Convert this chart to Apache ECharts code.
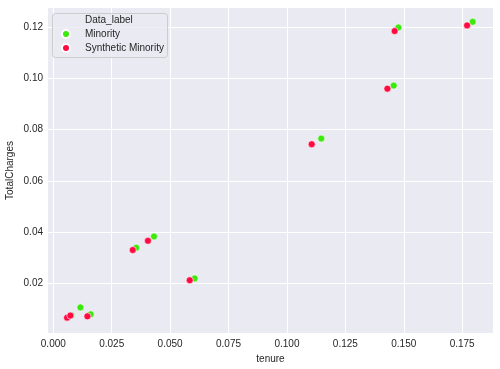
<!DOCTYPE html>
<html>
<head>
<meta charset="utf-8">
<script src="https://cdn.jsdelivr.net/npm/echarts@6/dist/echarts.min.js"></script>
<style>
  html, body { margin: 0; padding: 0; background: #fff; }
  #chart { width: 500px; height: 369px; }
</style>
</head>
<body>
<div id="chart"></div>
<script>
// values (tenure, TotalCharges)
var minorityTenure = [0.0077, 0.0116, 0.0160, 0.0355, 0.0431, 0.0605, 0.1147, 0.1457, 0.1477, 0.1795];
var minorityCharges = [0.0075, 0.0106, 0.0079, 0.0339, 0.0383, 0.0219, 0.0765, 0.0972, 0.1199, 0.1221];
var syntheticTenure = [0.0059, 0.0073, 0.0146, 0.0340, 0.0405, 0.0584, 0.1106, 0.1430, 0.1461, 0.1771];
var syntheticCharges = [0.0066, 0.0074, 0.0071, 0.0330, 0.0366, 0.0212, 0.0743, 0.0960, 0.1185, 0.1207];
var seriesNames = ['Minority', 'Synthetic Minority'];
var xTicks = [0, 0.025, 0.05, 0.075, 0.1, 0.125, 0.15, 0.175];
var yTicks = [0.02, 0.04, 0.06, 0.08, 0.1, 0.12];

function pairs(xs, ys) {
  return xs.map(function (x, i) { return [x, ys[i]]; });
}

var textColor = '#262626';
var chart = echarts.init(document.getElementById('chart'));

var option = {
  color: ['#3de80f', '#ff0a43'],
  animation: false,
  textStyle: { fontFamily: 'Liberation Sans, Arial, sans-serif' },
  grid: {
    left: 48, top: 8, right: 7, bottom: 36,
    outerBoundsMode: 'none',
    show: true,
    backgroundColor: '#eaeaf2',
    borderWidth: 0
  },
  graphic: [
    {
      type: 'rect', z: 3, left: 52, top: 13,
      shape: { width: 115, height: 44, r: 3 },
      style: { fill: 'rgba(234,234,242,0.8)', stroke: '#cccccc', lineWidth: 1 }
    },
    {
      type: 'text', z: 4, left: 85, top: 15,
      style: { text: 'Data_label', fill: textColor, font: '10px Liberation Sans, Arial, sans-serif' }
    }
  ],
  legend: {
    orient: 'vertical',
    left: 61, top: 27,
    padding: 0,
    itemWidth: 28, itemHeight: 8, itemGap: 0,
    icon: 'circle',
    textStyle: { color: textColor, fontSize: 10, lineHeight: 14 },
    data: seriesNames
  },
  xAxis: {
    type: 'value',
    min: -0.00227, max: 0.1882,
    name: 'tenure', nameLocation: 'middle', nameGap: 19,
    nameTextStyle: { color: textColor, fontSize: 10 },
    axisLine: { show: false },
    axisTick: { show: false, customValues: xTicks },
    axisLabel: {
      color: textColor, fontSize: 10, margin: 6,
      customValues: xTicks,
      formatter: function (v) { return v.toFixed(3); }
    },
    splitLine: { lineStyle: { color: '#ffffff', width: 1 } }
  },
  yAxis: {
    type: 'value',
    min: 0.0006, max: 0.1275,
    name: 'TotalCharges', nameLocation: 'middle', nameGap: 33, nameRotate: 90,
    nameMoveOverlap: false,
    nameTextStyle: { color: textColor, fontSize: 10 },
    axisLine: { show: false },
    axisTick: { show: false, customValues: yTicks },
    axisLabel: {
      color: textColor, fontSize: 10, margin: 5,
      customValues: yTicks,
      formatter: function (v) { return v.toFixed(2); }
    },
    splitLine: { lineStyle: { color: '#ffffff', width: 1 } }
  },
  series: [
    {
      name: seriesNames[0], type: 'scatter', symbolSize: 7,
      itemStyle: { borderColor: '#ffffff', borderWidth: 0.6, opacity: 1 },
      data: pairs(minorityTenure, minorityCharges)
    },
    {
      name: seriesNames[1], type: 'scatter', symbolSize: 7,
      itemStyle: { borderColor: '#ffffff', borderWidth: 0.6, opacity: 1 },
      data: pairs(syntheticTenure, syntheticCharges)
    }
  ]
};

chart.setOption(option);
</script>
</body>
</html>
